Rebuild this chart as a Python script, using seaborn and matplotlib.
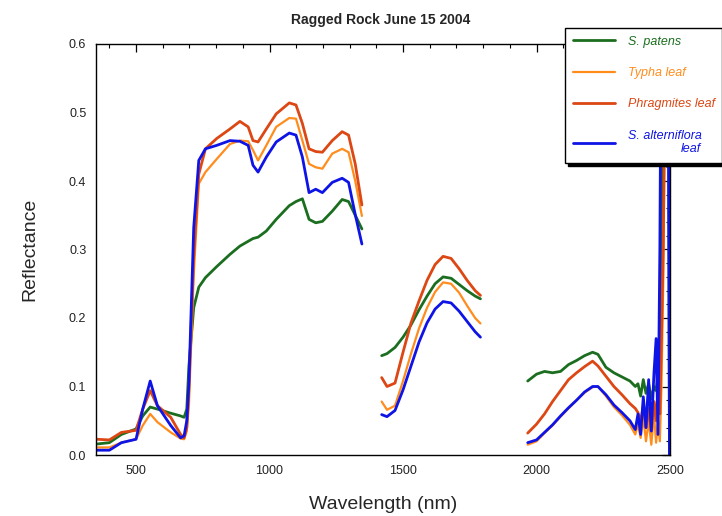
import numpy as np
import pandas as pd
import matplotlib
matplotlib.use('Agg')
import matplotlib.pyplot as plt
from matplotlib.lines import Line2D
from matplotlib.ticker import MultipleLocator
import seaborn as sns

# wavelength grids (nm) for the three measured segments
wl_vis = [352, 400, 445, 500, 525, 553, 580, 630, 667, 680, 690, 698, 716, 735, 760,
          802, 852, 889, 920, 938, 957, 988, 1025, 1074, 1099, 1123, 1148, 1173,
          1198, 1235, 1272, 1296, 1321, 1346]
wl_swir1 = [1420, 1440, 1470, 1500, 1530, 1560, 1590, 1620, 1650, 1680, 1710, 1740, 1770, 1790]
wl_swir2 = [1967, 2000, 2030, 2060, 2090, 2120, 2150, 2180, 2210, 2230, 2260, 2290, 2320,
            2350, 2370, 2380, 2390, 2400, 2410, 2420, 2430, 2440, 2448, 2455, 2462,
            2468, 2475, 2485, 2493, 2498]

# S. patens
patens_vis = [.016, .018, .030, .038, .057, .070, .067, .061, .057, .055, .067, .130, .215,
              .245, .259, .275, .293, .305, .312, .316, .318, .327, .344, .364, .370, .374,
              .344, .339, .341, .356, .373, .370, .350, .330]
patens_swir1 = [.145, .148, .157, .172, .190, .212, .232, .250, .260, .258, .249, .240, .232, .228]
patens_swir2 = [.108, .118, .122, .120, .122, .132, .138, .145, .150, .147, .128, .120, .114,
                .108, .100, .104, .086, .110, .090, .104, .082, .100, .094, .118, .110,
                .330, .700, .700, .700, .000]

# Typha leaf
typha_vis = [.011, .011, .018, .023, .043, .060, .048, .033, .024, .023, .035, .072, .263,
             .396, .413, .432, .454, .459, .458, .445, .430, .452, .479, .492, .491, .459,
             .425, .420, .418, .440, .447, .442, .400, .349]
typha_swir1 = [.078, .066, .072, .108, .148, .185, .215, .238, .252, .250, .237, .218, .200, .192]
typha_swir2 = [.015, .020, .032, .043, .056, .068, .080, .091, .099, .100, .086, .070, .058,
               .044, .030, .045, .025, .055, .020, .050, .015, .060, .018, .050, .020,
               .100, .260, .700, .700, .700]

# Phragmites leaf
phrag_vis = [.023, .022, .033, .036, .067, .094, .072, .055, .030, .025, .040, .097, .290,
             .410, .447, .462, .476, .487, .479, .459, .457, .476, .498, .514, .511, .484,
             .447, .443, .442, .459, .472, .467, .425, .365]
phrag_swir1 = [.113, .100, .105, .150, .193, .225, .255, .278, .290, .287, .272, .255, .240, .233]
phrag_swir2 = [.032, .045, .060, .078, .094, .110, .120, .129, .137, .130, .115, .100, .088,
               .075, .068, .062, .048, .072, .040, .068, .035, .078, .050, .098, .060,
               .170, .310, .700, .700, .700]

# S. alterniflora leaf
alt_vis = [.007, .007, .018, .023, .067, .108, .072, .043, .025, .028, .050, .106, .332,
           .430, .447, .452, .459, .458, .452, .423, .413, .435, .457, .470, .467, .435,
           .383, .388, .383, .398, .404, .398, .351, .308]
alt_swir1 = [.059, .056, .065, .095, .130, .165, .193, .213, .224, .222, .210, .195, .180, .172]
alt_swir2 = [.018, .022, .033, .044, .057, .069, .080, .092, .100, .100, .088, .073, .062,
             .050, .037, .060, .030, .085, .040, .110, .035, .120, .170, .030, .300,
             .700, .700, .700, .700, .000]

labels = ['S. patens', 'Typha leaf', 'Phragmites leaf', 'S. alterniflora\nleaf']
colors = ['#1b6e1f', '#ff8c1c', '#dc4714', '#0f14e6']
widths = [2.0, 1.6, 2.0, 2.0]
series = [(patens_vis, patens_swir1, patens_swir2),
          (typha_vis, typha_swir1, typha_swir2),
          (phrag_vis, phrag_swir1, phrag_swir2),
          (alt_vis, alt_swir1, alt_swir2)]


def buildFrame(name, parts):
    """long-format frame for one species, one unit per segment"""
    rows = []
    for seg, (wl, vals) in enumerate(zip([wl_vis, wl_swir1, wl_swir2], parts)):
        rows.append(pd.DataFrame({'wavelength': wl, 'reflectance': vals,
                                  'species': name, 'segment': seg}))
    return pd.concat(rows, ignore_index=True)


sns.set_style('white')
plt.rcParams['font.family'] = ['Liberation Sans', 'DejaVu Sans']

fig = plt.figure(figsize=(7.22, 5.16), dpi=100)
ax = fig.add_axes([96 / 722, 1 - 455 / 516, 574 / 722, 411 / 516])

for name, parts, c, lw in zip(labels, series, colors, widths):
    df = buildFrame(name, parts)
    sns.lineplot(data=df, x='wavelength', y='reflectance', units='segment',
                 estimator=None, sort=False, color=c, lw=lw, ax=ax, legend=False)

ax.set_xlim(350, 2500)
ax.set_ylim(0, 0.6)
ax.xaxis.set_major_locator(MultipleLocator(500))
ax.xaxis.set_minor_locator(MultipleLocator(100))
ax.yaxis.set_major_locator(MultipleLocator(0.1))
ax.yaxis.set_minor_locator(MultipleLocator(0.02))
ax.yaxis.set_major_formatter(plt.FormatStrFormatter('%.1f'))
ax.tick_params(which='both', direction='in', top=True, right=True, colors='black',
               labelcolor='#222222', labelsize=9, pad=7)
ax.tick_params(which='major', length=6, width=0.9)
ax.tick_params(which='minor', length=3, width=0.8)
for s in ax.spines.values():
    s.set_color('black')
    s.set_linewidth(1.0)

ax.set_xlabel('Wavelength (nm)', fontsize=14, labelpad=14)
ax.set_ylabel('Reflectance', fontsize=14, labelpad=22)
fig.text(0.527, 0.962, 'Ragged Rock June 15 2004', ha='center', va='center',
         fontsize=10, fontweight='bold')

# legend
handles = [Line2D([], [], color=c, lw=lw) for c, lw in zip(colors, widths)]
leg = ax.legend(handles, labels, loc='upper left',
                bbox_to_anchor=(565 / 722, 1 - 28 / 516), bbox_transform=fig.transFigure,
                borderaxespad=0, frameon=True, fancybox=False,
                shadow={'color': 'black', 'alpha': 1},
                edgecolor='black', framealpha=1, prop={'style': 'italic', 'size': 9},
                handlelength=3.4, handletextpad=1.0, labelspacing=1.55, borderpad=0.6)
leg.get_frame().set_linewidth(1.0)
for t, c in zip(leg.get_texts(), colors):
    t.set_color(c)
    t.set_multialignment('right')

fig.savefig('out.png', dpi=100)
